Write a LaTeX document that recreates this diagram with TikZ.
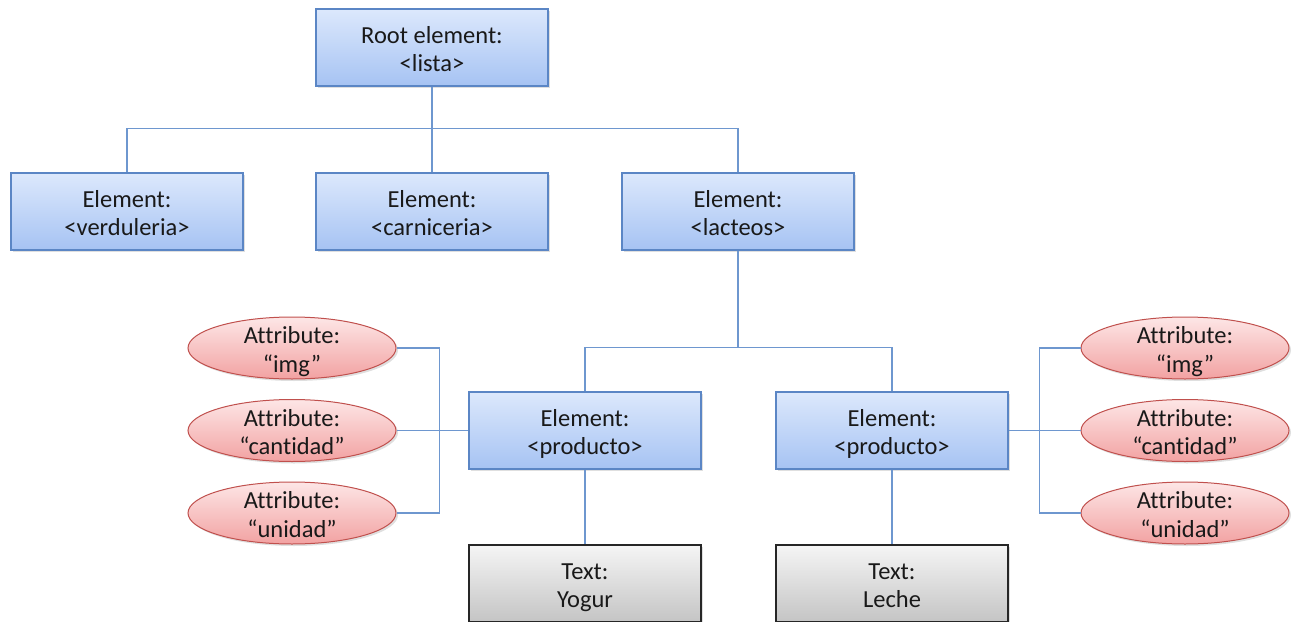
\documentclass[tikz,border=0pt]{standalone}
\usepackage{fontspec}
\setmainfont{Carlito}[Ligatures=NoCommon]
\usepackage{tikz}
\usetikzlibrary{shadows,shapes.geometric}
\definecolor{elemline}{HTML}{5B86C5}
\definecolor{elemtop}{HTML}{DCE8FC}
\definecolor{elembot}{HTML}{A6C3F3}
\definecolor{attrline}{HTML}{C0504D}
\definecolor{attrtop}{HTML}{FDE6E6}
\definecolor{attrbot}{HTML}{F2A2A2}
\definecolor{connline}{HTML}{6E97CF}

\begin{document}
\begin{tikzpicture}[x=1pt,y=-1pt]
\tikzstyle{every node}+=[inner sep=0pt,font=\fontsize{24.5}{28.5}\selectfont,align=center,text=black!90,execute at begin node={\rule{0pt}{57pt}},execute at end node=\strut]
\tikzstyle{elem}=[draw=elemline,line width=1.2pt,top color=elemtop,bottom color=elembot,minimum width=232pt,minimum height=77pt,drop shadow={shadow xshift=2pt,shadow yshift=-2pt,opacity=0.25}]
\tikzstyle{attr}=[ellipse,draw=attrline,line width=1pt,top color=attrtop,bottom color=attrbot,inner ysep=-11pt,minimum width=208pt,minimum height=62pt,drop shadow={shadow xshift=2pt,shadow yshift=-2pt,opacity=0.25}]
\tikzstyle{txt}=[draw=black!85,line width=1.2pt,top color=black!4,bottom color=black!23,minimum width=232pt,minimum height=77pt,drop shadow={shadow xshift=2pt,shadow yshift=-2pt,opacity=0.25}]
\tikzstyle{conn}=[draw=connline,line width=1.2pt]
\clip (0,0) rectangle (1298,621);
\node [elem] (root) at (432,47.5) {Root element:\\<lista>};
\node [elem] (verduleria) at (127,211.5) {Element:\\<verduleria>};
\node [elem] (carniceria) at (432,211.5) {Element:\\<carniceria>};
\node [elem] (lacteos) at (738,211.5) {Element:\\<lacteos>};
\node [elem] (productoA) at (585,430.5) {Element:\\<producto>};
\node [elem] (productoB) at (892,430.5) {Element:\\<producto>};
\node [txt] (yogur) at (585,583.5) {Text:\\Yogur};
\node [txt] (leche) at (892,583.5) {Text:\\Leche};
\node [attr] (imgA) at (292,348) {Attribute:\\“img”};
\node [attr] (cantidadA) at (292,430.5) {Attribute:\\“cantidad”};
\node [attr] (unidadA) at (292,513) {Attribute:\\“unidad”};
\node [attr] (imgB) at (1185,348) {Attribute:\\“img”};
\node [attr] (cantidadB) at (1185,430.5) {Attribute:\\“cantidad”};
\node [attr] (unidadB) at (1185,513) {Attribute:\\“unidad”};
\draw [conn] (root.south) -- ++(0,42) -| (verduleria.north);
\draw [conn] (root.south) -- (carniceria.north);
\draw [conn] (root.south) -- ++(0,42) -| (lacteos.north);
\draw [conn] (lacteos.south) -- ++(0,97) -| (productoA.north);
\draw [conn] (lacteos.south) -- ++(0,97) -| (productoB.north);
\draw [conn] (productoA.south) -- (yogur.north);
\draw [conn] (productoB.south) -- (leche.north);
\draw [conn] (productoA.west) -- ++(-29,0) |- (imgA.east);
\draw [conn] (productoA.west) -- (cantidadA.east);
\draw [conn] (productoA.west) -- ++(-29,0) |- (unidadA.east);
\draw [conn] (productoB.east) -- ++(31,0) |- (imgB.west);
\draw [conn] (productoB.east) -- (cantidadB.west);
\draw [conn] (productoB.east) -- ++(31,0) |- (unidadB.west);
\end{tikzpicture}
\end{document}
